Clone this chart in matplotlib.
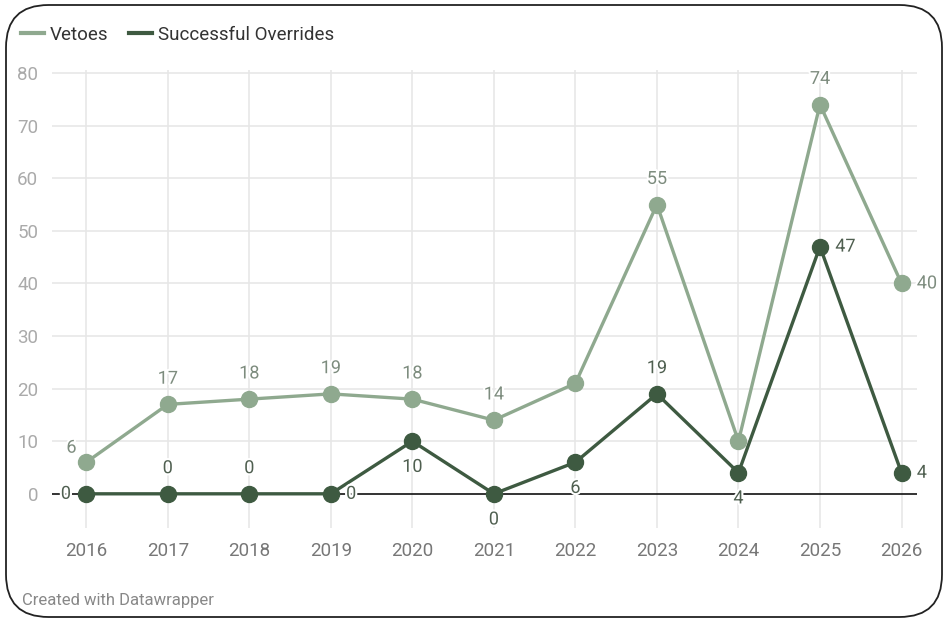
import matplotlib.pyplot as plt
import matplotlib.patheffects as pe
from matplotlib.patches import FancyBboxPatch

plt.rcParams['font.family'] = ['Roboto', 'DejaVu Sans']

# Dados
anos = [2016, 2017, 2018, 2019, 2020, 2021, 2022, 2023, 2024, 2025, 2026]
vetos = [6, 17, 18, 19, 18, 14, 21, 55, 10, 74, 40]
derrubadas = [0, 0, 0, 0, 10, 0, 6, 19, 4, 47, 4]

# Posição dos rótulos (None = sem rótulo)
pos_vetos = ['left', 'above', 'above', 'above', 'above', 'above', None, 'above', None, 'above', 'right']
pos_derrubadas = ['left', 'above', 'above', 'right', 'below', 'below', 'below', 'above', 'below', 'right', 'right']

cor_vetos = '#8fa98f'
cor_derrubadas = '#3e5a41'

fig = plt.figure(figsize=(9.45, 6.2), dpi=100)
ax = fig.add_axes([52 / 945, (620 - 528) / 620, (917 - 52) / 945, (528 - 70.4) / 620])

# Moldura arredondada
moldura = FancyBboxPatch((6 / 945, 3 / 620), 936 / 945, 612 / 620,
                         boxstyle='round,pad=0,rounding_size=0.045',
                         transform=fig.transFigure, fill=False,
                         edgecolor='#222222', linewidth=1.3, mutation_aspect=945 / 620)
fig.patches.append(moldura)

ax.set_xlim(2015.58, 2026.19)
ax.set_ylim(-6.5, 80.5)

for s in ax.spines.values():
    s.set_visible(False)

# Grade
for y in range(10, 90, 10):
    ax.axhline(y, color='#e6e6e6', linewidth=1.1, zorder=0)
for x in anos:
    ax.axvline(x, color='#e6e6e6', linewidth=1.1, zorder=0)
ax.axhline(0, color='#111111', linewidth=1.2, zorder=1)

l1, = ax.plot(anos, vetos, color=cor_vetos, linewidth=2.4, marker='o', markersize=11.5, zorder=3,
              label='Vetoes')
l2, = ax.plot(anos, derrubadas, color=cor_derrubadas, linewidth=2.4, marker='o', markersize=11.5, zorder=4,
              label='Successful Overrides')

halo = [pe.withStroke(linewidth=3, foreground='white')]


def rotular(xs, ys, posicoes, cor):
    for x, y, p in zip(xs, ys, posicoes):
        if p is None:
            continue
        if p == 'above':
            off, ha, va = (0, 12), 'center', 'bottom'
        elif p == 'below':
            off, ha, va = (0, -12), 'center', 'top'
        elif p == 'right':
            off, ha, va = (11, 0), 'left', 'center'
        else:
            off, ha, va = (-11, 0), 'right', 'center'
        if p == 'left' and y > 0:
            off, ha, va = (-7, 4), 'right', 'bottom'
        ax.annotate(str(y), (x, y), xytext=off, textcoords='offset points', ha=ha, va=va,
                    fontsize=13, color=cor, path_effects=halo, zorder=5)


rotular(anos, vetos, pos_vetos, '#7d8c7e')
rotular(anos, derrubadas, pos_derrubadas, '#4f5f50')

ax.set_xticks(anos)
ax.set_xticklabels([str(a) for a in anos])
ax.set_yticks(range(0, 90, 10))
ax.tick_params(axis='x', length=0, pad=10, labelsize=13.5, labelcolor='#777777')
ax.tick_params(axis='y', length=0, pad=10, labelsize=13.5, labelcolor='#aaaaaa')

# Legenda
leg = fig.legend(handles=[l1, l2], loc='upper left', bbox_to_anchor=(21 / 945, 1 - 26 / 620),
                 ncol=2, frameon=False, fontsize=13.5, handlelength=1.2, handletextpad=0.35,
                 columnspacing=1.1, borderaxespad=0, borderpad=0)
for h in leg.legend_handles:
    h.set_marker('')
    h.set_linewidth(3)
for t in leg.get_texts():
    t.set_color('#333333')

fig.text(22 / 945, 1 - 600 / 620, 'Created with Datawrapper', fontsize=12, color='#888888', va='center')

fig.savefig('out.png', dpi=100)
